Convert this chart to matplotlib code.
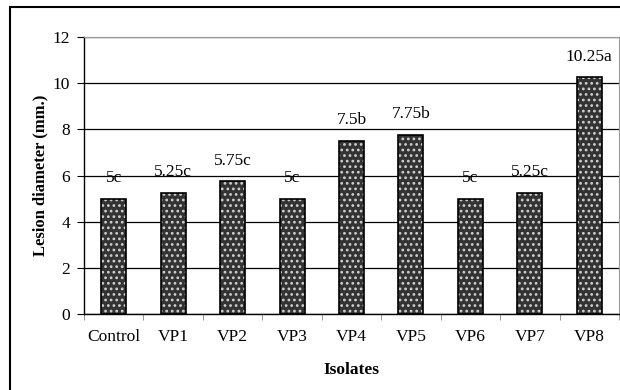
import numpy as np
import matplotlib.pyplot as plt
from matplotlib.patches import Rectangle

# データ
isolates = ['Control', 'VP1', 'VP2', 'VP3', 'VP4', 'VP5', 'VP6', 'VP7', 'VP8']
diameter = [5, 5.25, 5.75, 5, 7.5, 7.75, 5, 5.25, 10.25]
letters = ['c', 'c', 'c', 'c', 'b', 'b', 'c', 'c', 'a']

plt.rcParams['font.family'] = ['Liberation Serif', 'DejaVu Serif']
plt.rcParams['hatch.linewidth'] = 1.2

fig = plt.figure(figsize=(6.2, 3.9), dpi=100)
ax = fig.add_axes([84/620, 1-314/390, (619-84)/620, (314-37)/390])

x = np.arange(len(isolates))
# 点模様の塗り
ax.bar(x, diameter, width=0.42, color='#333333', edgecolor='#cfcfcf',
       hatch='...', linewidth=0, zorder=3)
# 外枠
ax.bar(x, diameter, width=0.42, fill=False, edgecolor='black',
       linewidth=1.2, zorder=4)

for xi, v, l in zip(x, diameter, letters):
    ax.text(xi, v + 0.55, '%g%s' % (v, l), ha='center', va='bottom', fontsize=12.5)

ax.set_xlim(-0.5, len(isolates) - 0.5)
ax.set_ylim(0, 12)
ax.set_yticks(range(0, 13, 2))
ax.set_xticks(x)
ax.set_xticklabels(isolates, fontsize=12.5)
ax.set_xticks(np.arange(-0.5, len(isolates)), minor=True)
ax.tick_params(axis='x', which='major', length=0, pad=11)
ax.tick_params(axis='x', which='minor', length=4, color='#888888')
ax.tick_params(axis='y', length=5, labelsize=12.5, pad=5)

ax.yaxis.grid(True, color='black', linewidth=0.9, zorder=0)
ax.spines['top'].set_color('#999999')
ax.spines['right'].set_color('#999999')
ax.spines['left'].set_linewidth(1.0)
ax.spines['bottom'].set_linewidth(1.0)

ax.set_ylabel('Lesion diameter (mm.)', fontsize=12, fontweight='bold')
ax.yaxis.set_label_coords((48 - 84) / 535, 0.5)
ax.set_xlabel('Isolates', fontsize=12.5, fontweight='bold', labelpad=12)

# 図の外枠
fig.patches.append(Rectangle((10/620, -0.1), 1.0, 1.1 - 7/390,
                             transform=fig.transFigure, fill=False,
                             edgecolor='black', linewidth=1.5))

fig.savefig('out.png', dpi=100)
